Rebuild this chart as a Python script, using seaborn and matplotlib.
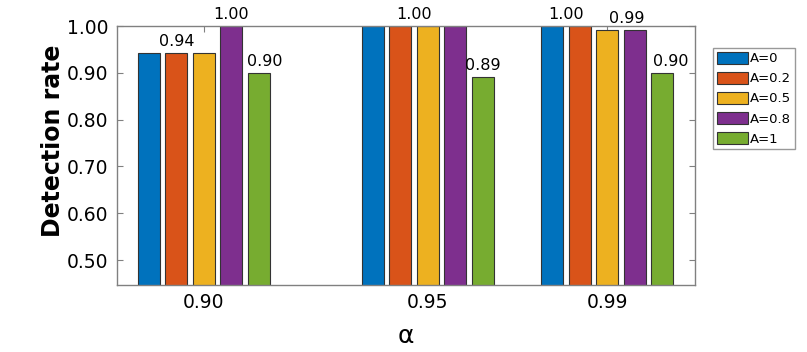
import numpy as np
import pandas as pd
import matplotlib
matplotlib.use("Agg")
import matplotlib.pyplot as plt
import seaborn as sns

sns.set_style("white")
plt.rcParams["font.family"] = ["DejaVu Sans"]
plt.rcParams["text.color"] = "black"
plt.rcParams["axes.labelcolor"] = "black"
plt.rcParams["xtick.labelcolor"] = "black"
plt.rcParams["ytick.labelcolor"] = "black"

# Data
alphas = [0.90, 0.95, 0.99]
series = ["A=0", "A=0.2", "A=0.5", "A=0.8", "A=1"]
rate_a0 = [0.942, 1.00, 1.00]
rate_a02 = [0.942, 1.00, 1.00]
rate_a05 = [0.942, 1.00, 0.9915]
rate_a08 = [1.00, 1.00, 0.991]
rate_a1 = [0.90, 0.891, 0.90]
colors = ["#0072BD", "#D95319", "#EDB120", "#7E2F8E", "#77AC30"]

# value labels: (alpha, bar position within group, text, value)
labels = [
    (0.90, 1.0, "0.94", 0.942),
    (0.90, 3.0, "1.00", 1.00),
    (0.90, 4.2, "0.90", 0.90),
    (0.95, 1.5, "1.00", 1.00),
    (0.95, 4.0, "0.89", 0.891),
    (0.99, 0.5, "1.00", 1.00),
    (0.99, 2.7, "0.99", 0.9915),
    (0.99, 4.3, "0.90", 0.90),
]

rows = []
for name, vals in zip(series, [rate_a0, rate_a02, rate_a05, rate_a08, rate_a1]):
    for a, v in zip(alphas, vals):
        rows.append({"alpha": a, "A": name, "rate": v})
df = pd.DataFrame(rows)

fig = plt.figure(figsize=(8.07, 3.52), dpi=100)
ax = fig.add_axes([0.145, 0.190, 0.716, 0.736])

width = 0.768
sns.barplot(data=df, x="alpha", y="rate", hue="A", hue_order=series,
            palette=colors, native_scale=True, width=width, gap=0.2,
            edgecolor="#333333", linewidth=0.8, saturation=1, ax=ax)

step = width * 0.04 / len(series)
for a, k, txt, v in labels:
    ax.annotate(txt, (a + (k - 2) * step, v), xytext=(0, 3),
                textcoords="offset points", ha="center", va="bottom",
                fontsize=11.5, color="black", annotation_clip=False)

ax.set_xlim(0.8806, 1.0096)
ax.set_ylim(0.4466, 1.0)
ax.set_xticks(alphas)
ax.set_xticklabels(["%.2f" % a for a in alphas], fontsize=13.5)
ax.set_yticks(np.arange(0.5, 1.01, 0.1))
ax.set_yticklabels(["%.2f" % t for t in np.arange(0.5, 1.01, 0.1)], fontsize=13.5)
ax.tick_params(direction="in", length=4, color="#808080", top=True, right=True,
               left=True, bottom=True, pad=6)
for s in ax.spines.values():
    s.set_color("#808080")
    s.set_linewidth(1.0)

ax.set_xlabel("α", fontsize=18, labelpad=8)
ax.set_ylabel("Detection rate", fontsize=17, fontweight="bold")
ax.yaxis.set_label_coords(-0.09, 0.556)

ax.legend(loc="upper left", bbox_to_anchor=(1.031, 0.915), fontsize=9.5,
          frameon=True, fancybox=False, edgecolor="#808080",
          handlelength=2.35, handleheight=1.0, handletextpad=0.2,
          labelspacing=0.5, borderpad=0.3, borderaxespad=0)

fig.savefig("out.png", dpi=100)
